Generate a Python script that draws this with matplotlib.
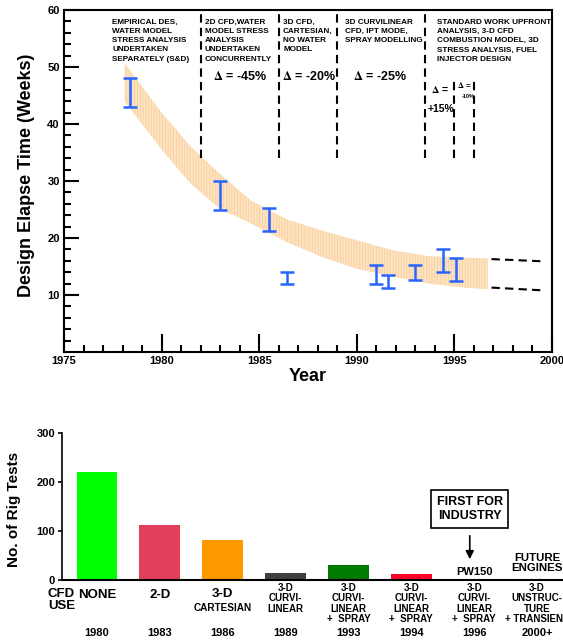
import numpy as np
import matplotlib
matplotlib.use('Agg')
import matplotlib.pyplot as plt

plt.rcParams['font.family'] = ['Liberation Sans', 'DejaVu Sans']
plt.rcParams['font.weight'] = 'bold'
plt.rcParams['axes.labelweight'] = 'bold'
plt.rcParams['mathtext.fontset'] = 'stix'
plt.rcParams['hatch.linewidth'] = 0.6

# ---- top chart data ----
band_year = [1978.1, 1980.0, 1981.5, 1983.0, 1984.6, 1986.4, 1988.2, 1990.0, 1991.9, 1993.7, 1995.5, 1996.7]
band_upper = [50.7, 42.0, 36.0, 31.2, 26.5, 23.3, 21.3, 19.6, 17.8, 16.8, 16.55, 16.4]
band_lower = [44.0, 35.5, 29.5, 25.1, 22.5, 19.3, 16.7, 14.6, 13.2, 12.0, 11.3, 11.0]

err_year = [1978.4, 1983.0, 1985.5, 1986.4, 1991.0, 1991.6, 1993.0, 1994.4, 1995.1]
err_low = [43.0, 25.0, 21.3, 12.0, 12.0, 11.2, 12.7, 14.0, 12.4]
err_high = [48.0, 30.0, 25.3, 14.1, 15.3, 13.5, 15.3, 18.0, 16.5]

ext_year = [1996.9, 1999.6]
ext_upper = [16.3, 15.9]
ext_lower = [11.3, 10.8]

phase_year = [1982, 1986, 1989, 1993.5, 1995, 1996]
phase_top = [60, 60, 60, 60, 48, 48]
phase_bottom = 34

phase_notes = [
    'EMPIRICAL DES,\nWATER MODEL\nSTRESS ANALYSIS\nUNDERTAKEN\nSEPARATELY (S&D)',
    '2D CFD,WATER\nMODEL STRESS\nANALYSIS\nUNDERTAKEN\nCONCURRENTLY',
    '3D CFD,\nCARTESIAN,\nNO WATER\nMODEL',
    '3D CURVILINEAR\nCFD, IPT MODE,\nSPRAY MODELLING',
    'STANDARD WORK UPFRONT\nANALYSIS, 3-D CFD\nCOMBUSTION MODEL, 3D\nSTRESS ANALYSIS, FUEL\nINJECTOR DESIGN',
]
note_x = [1977.46, 1982.22, 1986.22, 1989.4, 1994.1]
deltas = ['-45%', '-20%', '-25%']
delta_x = [1984.0, 1987.55, 1991.2]

# ---- bottom chart data ----
cfd_use = ['NONE', '2-D', '3-D\nCARTESIAN', '3-D\nCURVI-\nLINEAR',
           '3-D\nCURVI-\nLINEAR\n+  SPRAY', '3-D\nCURVI-\nLINEAR\n+  SPRAY',
           '3-D\nCURVI-\nLINEAR\n+  SPRAY', '3-D\nUNSTRUC-\nTURE\n+ TRANSIENT']
use_year = ['1980', '1983', '1986', '1989', '1993', '1994', '1996', '2000+']
rig_tests = [220, 112, 82, 14, 31, 13, 0, 0]
bar_colors = ['#00ff00', '#e0405a', '#ff9900', '#404040', '#007a00', '#ff0028', 'none', 'none']

fig = plt.figure(figsize=(5.63, 6.44), dpi=100)

# ================= top chart =================
ax = fig.add_axes([64/563, 1-352/644, (552-64)/563, (352-10)/644])
ax.set_xlim(1975, 2000)
ax.set_ylim(0, 60)

ax.fill_between(band_year, band_lower, band_upper, facecolor='#fde3c2',
                edgecolor='#f8d09c', hatch='||||||', linewidth=0)

mid = (np.array(err_low) + np.array(err_high)) / 2
half = (np.array(err_high) - np.array(err_low)) / 2
ax.errorbar(err_year, mid, yerr=half, fmt='none', ecolor='#2864ff',
            elinewidth=1.8, capsize=5, capthick=1.8)

ax.plot(ext_year, ext_upper, color='black', lw=1.5, ls=(0, (4, 2.5)))
ax.plot(ext_year, ext_lower, color='black', lw=1.5, ls=(0, (4, 2.5)))

ax.vlines(phase_year, phase_bottom, phase_top, colors='black', lw=1.5,
          linestyles=[(0, (4, 2.5))])

for x, note in zip(note_x, phase_notes):
    ax.text(x, 58.4, note, fontsize=5.9, ha='left', va='top', linespacing=1.42)

for x, d in zip(delta_x, deltas):
    ax.text(x, 48.4, r'$\Delta$ = ' + d, fontsize=9, ha='center', va='center')
ax.text(1994.26, 46.0, r'$\Delta$ =', fontsize=7.5, ha='center', va='center')
ax.text(1994.3, 42.7, '+15%', fontsize=7.5, ha='center', va='center')
ax.text(1995.54, 46.8, r'$\Delta$ =', fontsize=6, ha='center', va='center')
ax.text(1995.7, 44.9, '-10%', fontsize=4, ha='center', va='center')

ax.set_xticks(range(1975, 2001, 5))
ax.set_xticks(range(1975, 2001), minor=True)
ax.set_yticks(range(10, 61, 10))
ax.set_yticks(range(2, 61, 2), minor=True)
ax.tick_params(which='major', direction='in', width=1.5, labelsize=8, pad=3)
ax.tick_params(axis='x', which='major', length=13)
ax.tick_params(axis='y', which='major', length=11)
ax.tick_params(which='minor', direction='in', length=5, width=1.5)
for s in ax.spines.values():
    s.set_linewidth(1.5)
ax.set_xlabel('Year', fontsize=13, labelpad=1)
fig.text(27/563, 1-175/644, 'Design Elapse Time (Weeks)', fontsize=13,
         rotation=90, ha='center', va='center')

# ================= bottom chart =================
ax2 = fig.add_axes([62/563, 1-580/644, (563-62)/563, (580-433)/644])
pos = np.arange(len(rig_tests))
ax2.bar(pos, rig_tests, width=0.65, color=bar_colors)
ax2.set_xlim(-0.557, 7.413)
ax2.set_ylim(0, 300)
ax2.set_yticks([0, 100, 200, 300])
ax2.set_xticks([])
ax2.tick_params(axis='y', direction='out', length=3, width=1.2, labelsize=8, pad=2)
ax2.spines['top'].set_visible(False)
ax2.spines['right'].set_visible(False)
ax2.spines['left'].set_linewidth(1.2)
ax2.spines['bottom'].set_linewidth(1.5)
fig.text(14/563, 1-509/644, 'No. of Rig Tests', fontsize=11, rotation=90,
         ha='center', va='center')

tr = ax2.get_xaxis_transform()
ay = lambda py: (580 - py) / 147
ax2.text(-0.78, ay(588), 'CFD\nUSE', fontsize=9.5, ha='left', va='top',
         transform=tr, linespacing=1.0)
for i, (lab, yr) in enumerate(zip(cfd_use, use_year)):
    if '\n' not in lab:
        ax2.text(i, ay(595), lab, fontsize=9.5, ha='center', va='center', transform=tr)
    elif 'CARTESIAN' in lab:
        top, bot = lab.split('\n')
        ax2.text(i, ay(594), top, fontsize=9.5, ha='center', va='center', transform=tr)
        ax2.text(i, ay(608), bot, fontsize=7.2, ha='center', va='center', transform=tr)
    else:
        ax2.text(i, ay(583), lab, fontsize=7, ha='center', va='top',
                 transform=tr, linespacing=1.05)
    ax2.text(i, ay(633), yr, fontsize=8, ha='center', va='center', transform=tr)

ax2.text(6, ay(572), 'PW150', fontsize=8, ha='center', va='center', transform=tr)
ax2.text(7, ay(563), 'FUTURE\nENGINES', fontsize=8.2, ha='center', va='center',
         transform=tr, linespacing=0.95)
ax2.text(5.93, ay(509), 'FIRST FOR\nINDUSTRY', fontsize=9, ha='center', va='center',
         transform=tr, linespacing=1.2,
         bbox=dict(boxstyle='square,pad=0.45', facecolor='white', edgecolor='black', lw=1.2))
ax2.annotate('', xy=(5.93, ay(562)), xytext=(5.93, ay(533)), xycoords=tr, textcoords=tr,
             arrowprops=dict(arrowstyle='-|>', color='black', lw=1.2, mutation_scale=12))

fig.savefig('out.png', dpi=100)
